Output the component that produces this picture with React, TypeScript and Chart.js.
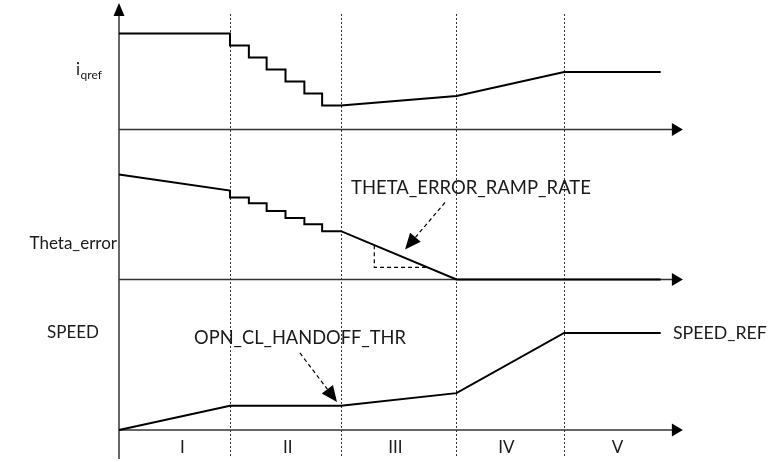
import React, { useEffect, useRef } from 'react';
import { Chart, registerables } from 'chart.js';

Chart.register(...registerables);

// ---------- data (time in phase units, values in panel units) ----------
const PHASES = ['I', 'II', 'III', 'IV', 'V'];
const PHASE_LABEL_T = [0.57, 1.52, 2.49, 3.49, 4.49];
const PHASE_BOUNDS = [1, 2, 3.04, 4.01];
const TIME_AXIS_END = 5.08;

const IQREF_T = [0, 1, 1, 1.17, 1.17, 1.33, 1.33, 1.5, 1.5, 1.67, 1.67, 1.83, 1.83, 2, 3.04, 4.01, 4.88];
const IQREF_V = [4, 4, 3.5, 3.5, 3, 3, 2.5, 2.5, 2, 2, 1.5, 1.5, 1, 1, 1.4, 2.4, 2.4];

const THETA_T = [0, 1, 1, 1.17, 1.17, 1.33, 1.33, 1.5, 1.5, 1.67, 1.67, 1.83, 1.83, 2, 3.04, 4.88];
const THETA_V = [15, 12.7, 11.7, 11.7, 10.9, 10.9, 9.8, 9.8, 8.8, 8.8, 7.9, 7.9, 6.9, 6.9, 0, 0];

const SPEED_T = [0, 1, 2, 3.04, 4.01, 4.88];
const SPEED_V = [0, 25, 25, 38, 100, 100];

const RAMP_TRI_T = [2.3, 2.3, 2.77];
const RAMP_TRI_V = [4.9, 1.72, 1.72];

const PANEL_LABELS = ['Theta_error', 'SPEED'];
const THETA_NOTE = 'THETA_ERROR_RAMP_RATE';
const HANDOFF_NOTE = 'OPN_CL_HANDOFF_THR';
const SPEED_REF_NOTE = 'SPEED_REF';

// ---------- layout ----------
const W = 771;
const H = 462;
const X0 = 119;
const PX_PER_T = 111;
const BASE_I = 129.5;
const BASE_T = 279.5;
const BASE_S = 430;
const K_I = 24;
const K_T = 7;
const K_S = 0.97;
const FONT = 'Lato, "Open Sans", sans-serif';

const pts = (t: number[], v: number[]) => t.map((x, i) => ({ x, y: v[i] }));

function fitFont(ctx: CanvasRenderingContext2D, text: string, width: number) {
  ctx.font = `20px ${FONT}`;
  const w = ctx.measureText(text).width;
  const size = (20 * width) / w;
  ctx.font = `${size}px ${FONT}`;
}

function dashedArrow(ctx: CanvasRenderingContext2D, x1: number, y1: number, x2: number, y2: number) {
  const a = Math.atan2(y2 - y1, x2 - x1);
  const len = 16;
  const hw = 7;
  const bx = x2 - len * Math.cos(a);
  const by = y2 - len * Math.sin(a);
  ctx.save();
  ctx.strokeStyle = '#000';
  ctx.lineWidth = 1.2;
  ctx.setLineDash([4, 3]);
  ctx.beginPath();
  ctx.moveTo(x1, y1);
  ctx.lineTo(bx, by);
  ctx.stroke();
  ctx.setLineDash([]);
  ctx.fillStyle = '#000';
  ctx.beginPath();
  ctx.moveTo(x2, y2);
  ctx.lineTo(bx + hw * Math.sin(a), by - hw * Math.cos(a));
  ctx.lineTo(bx - hw * Math.sin(a), by + hw * Math.cos(a));
  ctx.closePath();
  ctx.fill();
  ctx.restore();
}

const diagramPlugin = {
  id: 'diagram',
  beforeDatasetsDraw(chart: any) {
    const ctx: CanvasRenderingContext2D = chart.ctx;
    const xs = chart.scales.x;
    const x0 = xs.getPixelForValue(0);
    const xEnd = xs.getPixelForValue(TIME_AXIS_END);
    ctx.save();
    // dotted phase boundaries
    ctx.strokeStyle = '#333';
    ctx.lineWidth = 1;
    ctx.setLineDash([2, 2]);
    PHASE_BOUNDS.forEach((t) => {
      const x = Math.round(xs.getPixelForValue(t)) + 0.5;
      ctx.beginPath();
      ctx.moveTo(x, 14);
      ctx.lineTo(x, 456);
      ctx.stroke();
    });
    ctx.setLineDash([]);
    // horizontal axes with arrows
    ctx.strokeStyle = '#333';
    ctx.fillStyle = '#000';
    ctx.lineWidth = 1.5;
    ['yI', 'yT', 'yS'].forEach((id) => {
      const y = chart.scales[id].getPixelForValue(0);
      ctx.beginPath();
      ctx.moveTo(x0, y);
      ctx.lineTo(xEnd - 10, y);
      ctx.stroke();
      ctx.beginPath();
      ctx.moveTo(xEnd, y);
      ctx.lineTo(xEnd - 11, y - 6.5);
      ctx.lineTo(xEnd - 11, y + 6.5);
      ctx.closePath();
      ctx.fill();
    });
    // vertical axis
    ctx.beginPath();
    ctx.moveTo(x0, 15);
    ctx.lineTo(x0, 459);
    ctx.stroke();
    ctx.beginPath();
    ctx.moveTo(x0, 3);
    ctx.lineTo(x0 - 5.5, 16);
    ctx.lineTo(x0 + 5.5, 16);
    ctx.closePath();
    ctx.fill();
    ctx.restore();
  },
  afterDatasetsDraw(chart: any) {
    const ctx: CanvasRenderingContext2D = chart.ctx;
    const xs = chart.scales.x;
    const yT = chart.scales.yT;
    const yS = chart.scales.yS;
    ctx.save();
    // annotation arrows
    dashedArrow(ctx, xs.getPixelForValue(2.937), yT.getPixelForValue(11), xs.getPixelForValue(2.577), yT.getPixelForValue(4.29));
    dashedArrow(ctx, xs.getPixelForValue(1.63), yS.getPixelForValue(79.4), xs.getPixelForValue(1.964), yS.getPixelForValue(28.9));

    ctx.fillStyle = '#1a1a1a';
    ctx.textBaseline = 'middle';
    ctx.textAlign = 'left';
    fitFont(ctx, THETA_NOTE, 240);
    ctx.fillText(THETA_NOTE, xs.getPixelForValue(2.09), yT.getPixelForValue(13.1));
    fitFont(ctx, HANDOFF_NOTE, 212);
    ctx.fillText(HANDOFF_NOTE, xs.getPixelForValue(0.676), yS.getPixelForValue(94.8));
    fitFont(ctx, SPEED_REF_NOTE, 94);
    ctx.fillText(SPEED_REF_NOTE, xs.getPixelForValue(4.99), yS.getPixelForValue(100));

    // panel labels
    ctx.font = `17px ${FONT}`;
    ctx.textAlign = 'right';
    ctx.fillText(PANEL_LABELS[0], 117, 244);
    ctx.textAlign = 'left';
    ctx.fillText(PANEL_LABELS[1], 47, 333);
    // i_qref with subscript
    ctx.font = `17px ${FONT}`;
    ctx.fillText('i', 76, 70);
    const iw = ctx.measureText('i').width;
    ctx.font = `12px ${FONT}`;
    ctx.fillText('qref', 76 + iw + 0.5, 75);

    // phase numerals
    ctx.font = `17px ${FONT}`;
    ctx.textAlign = 'center';
    PHASES.forEach((p, i) => {
      ctx.fillText(p, xs.getPixelForValue(PHASE_LABEL_T[i]), 448);
    });
    ctx.restore();
  },
};

export default function App() {
  const ref = useRef<HTMLCanvasElement | null>(null);
  useEffect(() => {
    if (!ref.current) return;
    const line = { borderColor: '#000', borderWidth: 2, pointRadius: 0, showLine: true, tension: 0, fill: false };
    const chart = new Chart(ref.current, {
      type: 'scatter',
      data: {
        datasets: [
          { ...line, label: 'iqref', data: pts(IQREF_T, IQREF_V), yAxisID: 'yI' },
          { ...line, label: 'Theta_error', data: pts(THETA_T, THETA_V), yAxisID: 'yT' },
          { ...line, label: 'SPEED', data: pts(SPEED_T, SPEED_V), yAxisID: 'yS' },
          { ...line, label: 'ramp', data: pts(RAMP_TRI_T, RAMP_TRI_V), yAxisID: 'yT', borderWidth: 1.2, borderDash: [4, 3] },
        ],
      },
      options: {
        responsive: false,
        animation: false,
        devicePixelRatio: 1,
        layout: { padding: 0 },
        plugins: { legend: { display: false }, tooltip: { enabled: false }, title: { display: false } },
        scales: {
          x: { type: 'linear', display: false, min: -X0 / PX_PER_T, max: (W - X0) / PX_PER_T, bounds: 'data' },
          yI: { type: 'linear', display: false, min: -(H - BASE_I) / K_I, max: BASE_I / K_I, bounds: 'data' },
          yT: { type: 'linear', display: false, min: -(H - BASE_T) / K_T, max: BASE_T / K_T, bounds: 'data' },
          yS: { type: 'linear', display: false, min: -(H - BASE_S) / K_S, max: BASE_S / K_S, bounds: 'data' },
        },
      } as any,
      plugins: [diagramPlugin],
    });
    return () => chart.destroy();
  }, []);
  return (
    <div style={{ position: 'absolute', left: 0, top: 0, width: W, height: H, background: '#fff' }}>
      <canvas ref={ref} width={W} height={H} style={{ display: 'block' }} />
    </div>
  );
}
